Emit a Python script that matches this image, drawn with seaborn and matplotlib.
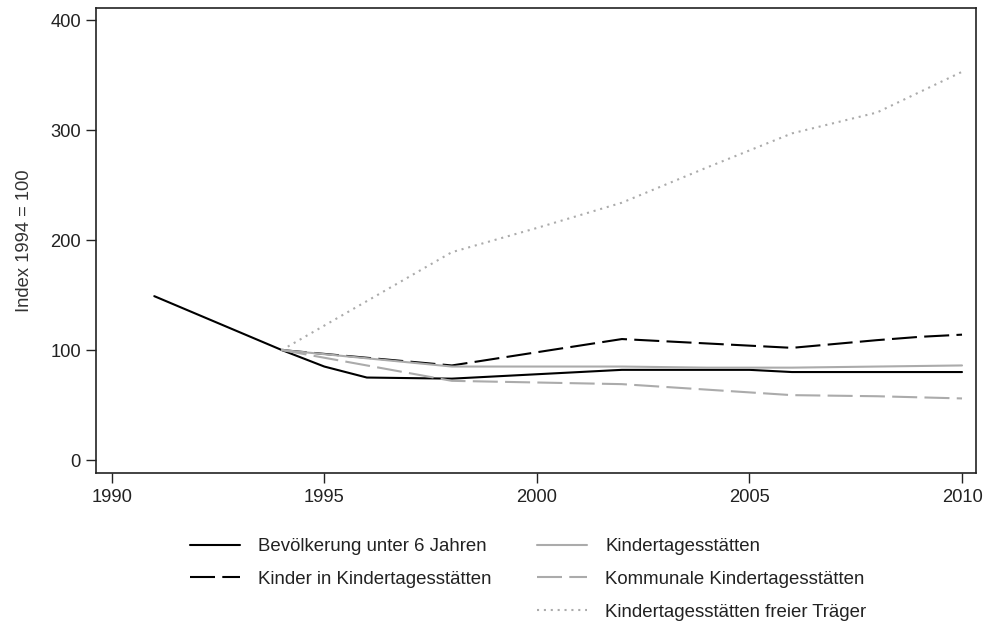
import seaborn as sns
import matplotlib.pyplot as plt
import pandas as pd
from matplotlib.lines import Line2D

# Index 1994 = 100
years_bev = [1991, 1994, 1995, 1996, 1998, 2000, 2002, 2004, 2005, 2006, 2008, 2010]
bev = [149, 100, 85, 75, 74, 78, 82, 82, 82, 80, 80, 80]

years_kinder = [1994, 1996, 1998, 2000, 2002, 2004, 2006, 2008, 2009, 2010]
kinder = [100, 93, 86, 98, 110, 106, 102, 109, 112, 114]

years_kita = [1994, 1998, 2002, 2004, 2006, 2008, 2010]
kita = [100, 85, 85, 84, 84, 85, 86]

years_komm = [1994, 1998, 2002, 2004, 2006, 2008, 2010]
komm = [100, 72, 69, 64, 59, 58, 56]

years_frei = [1994, 1998, 2000, 2002, 2004, 2006, 2008, 2010]
frei = [100, 189, 211, 234, 266, 297, 316, 353]

labels = ["Bevölkerung unter 6 Jahren", "Kinder in Kindertagesstätten",
          "Kindertagesstätten", "Kommunale Kindertagesstätten",
          "Kindertagesstätten freier Träger"]

frames = []
for lab, yrs, vals in zip(labels,
                          [years_bev, years_kinder, years_kita, years_komm, years_frei],
                          [bev, kinder, kita, komm, frei]):
    frames.append(pd.DataFrame({"Jahr": yrs, "Index": vals, "Reihe": lab}))
df = pd.concat(frames, ignore_index=True)

gray = "#ababab"
palette = dict(zip(labels, ["black", "black", gray, gray, gray]))
dashes = dict(zip(labels, ["", (12, 3.5), "", (12, 3.5), (1, 2.3)]))

sns.set_style("ticks")
plt.rcParams["font.family"] = ["Liberation Sans", "DejaVu Sans"]

fig = plt.figure(figsize=(9.86, 6.26), dpi=100)
ax = fig.add_axes([0.0974, 0.2444, 0.8925, 0.7428])

sns.lineplot(data=df, x="Jahr", y="Index", hue="Reihe", style="Reihe",
             palette=palette, dashes=dashes, hue_order=labels,
             linewidth=1.5, ax=ax, legend=False)

ax.set_xlim(1989.63, 2010.33)
ax.set_ylim(-11.8, 411)
ax.set_xticks([1990, 1995, 2000, 2005, 2010])
ax.set_yticks([0, 100, 200, 300, 400])
ax.tick_params(labelsize=13.2, length=7, width=1, colors="#222222")
ax.tick_params(axis="x", pad=4.5)
ax.tick_params(axis="y", pad=4)
ax.set_xlabel("")
ax.set_ylabel("Index 1994 = 100", fontsize=13.2, color="#333333", labelpad=12)
for s in ax.spines.values():
    s.set_linewidth(1.2)
    s.set_color("#222222")

handles = []
for lab in labels:
    handles.append(Line2D([], [], color=palette[lab], linewidth=1.5,
                          dashes=dashes[lab] if dashes[lab] else (None, None)))
blank = Line2D([], [], color="none")
order_h = [handles[0], handles[1], blank, handles[2], handles[3], handles[4]]
order_l = [labels[0], labels[1], "", labels[2], labels[3], labels[4]]
fig.legend(order_h, order_l, ncol=2, frameon=False, fontsize=13.4,
           loc="upper left", bbox_to_anchor=(190 / 986, 1 - 538 / 626),
           borderpad=0, borderaxespad=0, handlelength=2.69, handletextpad=0.97,
           columnspacing=2.45, labelspacing=0.85, labelcolor="#222222")

fig.savefig("out.png", dpi=100)
